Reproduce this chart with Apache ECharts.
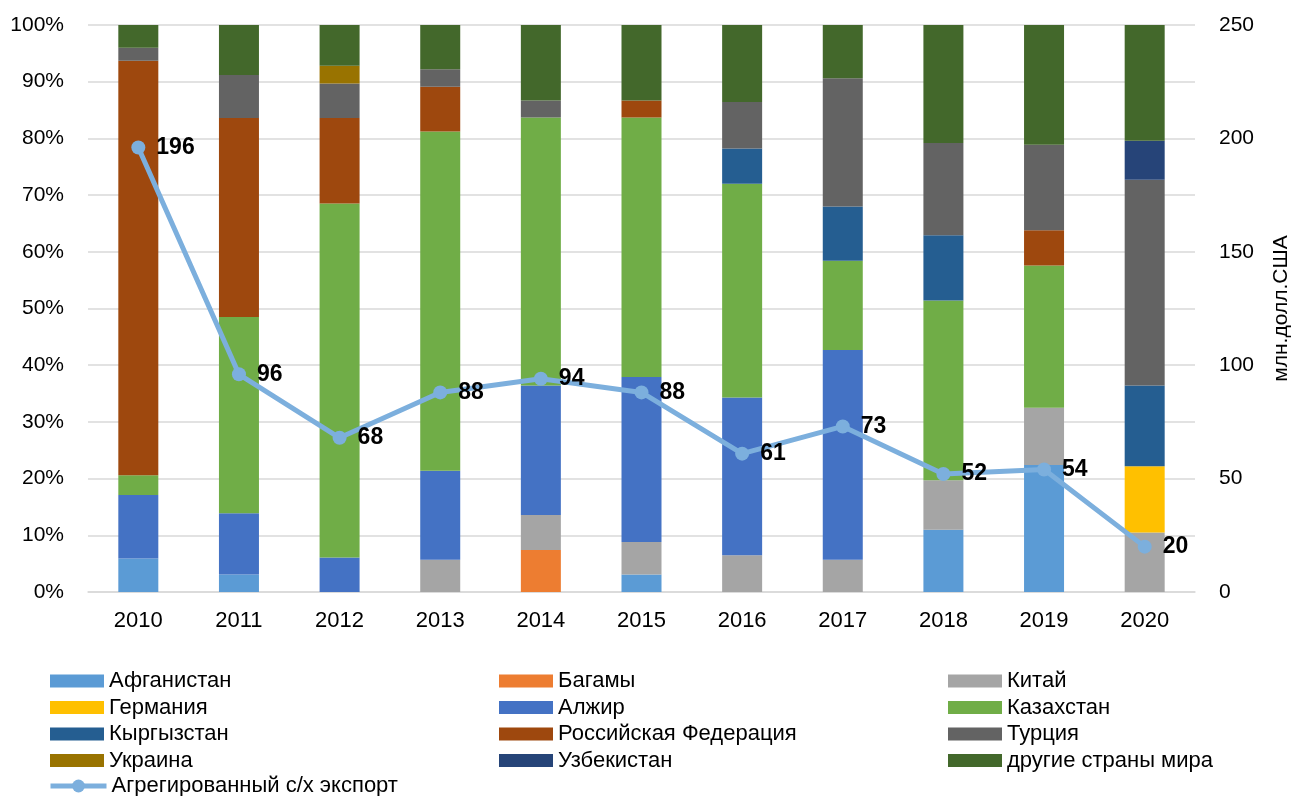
<!DOCTYPE html>
<html lang="ru">
<head>
    <meta charset="UTF-8">
    <title>Экспорт</title>
    <script src="https://cdn.jsdelivr.net/npm/echarts@6/dist/echarts.min.js"></script>
    <style>
        html, body { margin: 0; padding: 0; background: #fff; }
        #main { width: 1300px; height: 796px; }
    </style>
</head>
<body>
<div id="main"></div>
<script>
    // годы
    var years = ['2010', '2011', '2012', '2013', '2014', '2015', '2016', '2017', '2018', '2019', '2020'];

    // доли стран, %
    var afghanistan = [5.9, 3.1, 0, 0, 0, 3.1, 0, 0, 11.0, 22.4, 0];
    var bahamas     = [0, 0, 0, 0, 7.4, 0, 0, 0, 0, 0, 0];
    var china       = [0, 0, 0, 5.7, 6.2, 5.7, 6.5, 5.7, 8.7, 10.1, 10.5];
    var germany     = [0, 0, 0, 0, 0, 0, 0, 0, 0, 0, 11.7];
    var algeria     = [11.2, 10.8, 6.1, 15.7, 22.8, 29.1, 27.8, 37.0, 0, 0, 0];
    var kazakhstan  = [3.5, 34.6, 62.4, 59.8, 47.3, 45.8, 37.7, 15.7, 31.7, 25.1, 0];
    var kyrgyzstan  = [0, 0, 0, 0, 0, 0, 6.2, 9.6, 11.5, 0, 14.2];
    var russia      = [73.1, 35.1, 15.1, 7.9, 0, 3.0, 0, 0, 0, 6.2, 0];
    var turkey      = [2.3, 7.6, 6.1, 3.1, 3.0, 0, 8.2, 22.6, 16.3, 15.1, 36.3];
    var ukraine     = [0, 0, 3.1, 0, 0, 0, 0, 0, 0, 0, 0];
    var uzbekistan  = [0, 0, 0, 0, 0, 0, 0, 0, 0, 0, 6.9];
    var others      = [4.0, 8.8, 7.2, 7.8, 13.3, 13.3, 13.6, 9.4, 20.8, 21.1, 20.4];

    // агрегированный экспорт, млн.долл.США
    var totalExport = [196, 96, 68, 88, 94, 88, 61, 73, 52, 54, 20];

    var countries = [
        ['Афганистан', afghanistan, '#5B9BD5'],
        ['Багамы', bahamas, '#ED7D31'],
        ['Китай', china, '#A5A5A5'],
        ['Германия', germany, '#FFC000'],
        ['Алжир', algeria, '#4472C4'],
        ['Казахстан', kazakhstan, '#70AD47'],
        ['Кыргызстан', kyrgyzstan, '#255E91'],
        ['Российская Федерация', russia, '#9E480E'],
        ['Турция', turkey, '#636363'],
        ['Украина', ukraine, '#997300'],
        ['Узбекистан', uzbekistan, '#264478'],
        ['другие страны мира', others, '#43682B']
    ];
    var lineName = 'Агрегированный с/х экспорт';

    var font = 'Liberation Sans';
    var series = countries.map(function (c) {
        return {
            name: c[0],
            type: 'bar',
            stack: 'total',
            barWidth: 40,
            data: c[1],
            itemStyle: { color: c[2] }
        };
    });
    series.push({
        name: lineName,
        type: 'line',
        yAxisIndex: 1,
        data: totalExport,
        symbol: 'circle',
        symbolSize: 14,
        lineStyle: { color: '#7CAFDD', width: 5 },
        itemStyle: { color: '#7CAFDD' },
        label: {
            show: true,
            position: 'right',
            distance: 11,
            fontFamily: font,
            fontSize: 23,
            fontWeight: 'bold',
            color: '#000'
        },
        z: 10
    });

    var legendText = { fontFamily: font, fontSize: 22, color: '#000' };

    // колонка легенды
    function col(idx, left) {
        return {
            orient: 'vertical',
            left: left,
            top: 665,
            itemWidth: 54,
            itemHeight: 13,
            itemGap: 4.5,
            data: idx.map(function (i) { return { name: countries[i][0], icon: 'rect' }; }),
            textStyle: legendText,
            selectedMode: false
        };
    }

    var myChart = echarts.init(document.getElementById('main'));
    var option = {
        animation: false,
        grid: { left: 88, right: 99, top: 25, bottom: 204 },
        legend: [
            col([0, 3, 6, 9], 45),
            col([1, 4, 7, 10], 494),
            col([2, 5, 8, 11], 943),
            {
                left: 43,
                top: 770,
                itemWidth: 56,
                itemHeight: 16,
                data: [{ name: lineName, lineStyle: { width: 5 } }],
                textStyle: legendText,
                selectedMode: false
            }
        ],
        xAxis: {
            type: 'category',
            data: years,
            axisTick: { show: false },
            axisLine: { lineStyle: { color: '#d9d9d9', width: 1.5 } },
            axisLabel: { fontFamily: font, fontSize: 22, color: '#000', margin: 18 }
        },
        yAxis: [
            {
                type: 'value',
                min: 0,
                max: 100,
                interval: 10,
                axisLabel: { formatter: '{value}%', fontFamily: font, fontSize: 21, color: '#000', margin: 24 },
                splitLine: { lineStyle: { color: '#d9d9d9', width: 1.5 } }
            },
            {
                type: 'value',
                min: 0,
                max: 250,
                interval: 50,
                name: 'млн.долл.США',
                nameLocation: 'middle',
                nameGap: 76,
                nameRotate: 90,
                nameTextStyle: { fontFamily: font, fontSize: 21, color: '#000' },
                axisLabel: { fontFamily: font, fontSize: 21, color: '#000', margin: 24 },
                splitLine: { show: false }
            }
        ],
        series: series
    };
    myChart.setOption(option);
</script>
</body>
</html>
